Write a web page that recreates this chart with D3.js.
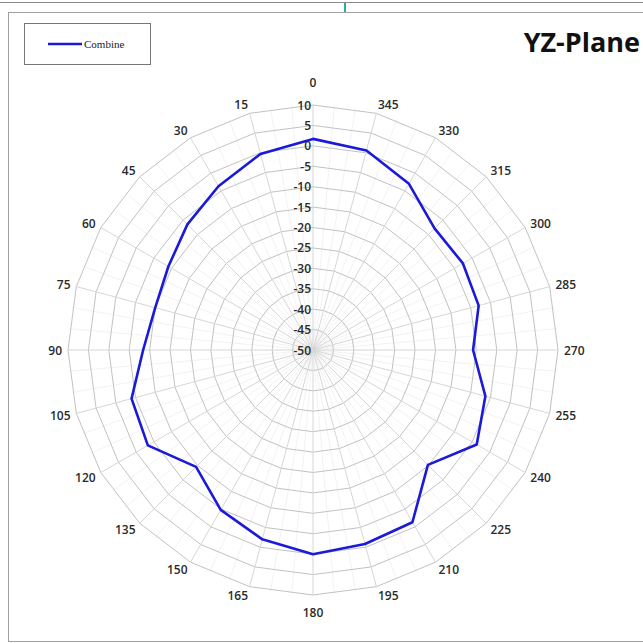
<!DOCTYPE html>
<html>
<head>
<meta charset="utf-8">
<script src="https://cdn.jsdelivr.net/npm/d3@7/dist/d3.min.js"></script>
<style>
  html, body { margin: 0; padding: 0; background: #fff; }
  svg { display: block; }
</style>
</head>
<body>
<svg id="chart" width="643" height="643"></svg>
<script>
// ---- data ----
const angles = [0, 15, 30, 45, 60, 75, 90, 105, 120, 135, 150, 165,
                180, 195, 210, 225, 240, 255, 270, 285, 300, 315, 330, 345];
const combine = [1.7, -0.3, -3.7, -6.5, -9.1, -10.0, -8.4, -4.0, -3.3, -9.5, -4.8, -2.0,
                 0.0, -0.8, -1.3, -10.2, -3.7, -6.3, -10.8, -8.0, -7.6, -7.9, -3.0, 0.6];
const radialTicks = [10, 5, 0, -5, -10, -15, -20, -25, -30, -35, -40, -45, -50];
const seriesName = "Combine";
const title = "YZ-Plane";

// ---- layout ----
const svg = d3.select("#chart");
const cx = 313, cy = 350, R = 245;
const rScale = d3.scaleLinear().domain([-50, 10]).range([0, R]);
const toRad = a => -a * Math.PI / 180;   // counter-clockwise from top

// outer frame
svg.append("line").attr("x1", 0).attr("x2", 643).attr("y1", 2.5).attr("y2", 2.5)
  .attr("stroke", "#8a8a8a").attr("stroke-width", 1.2);
svg.append("line").attr("x1", 345).attr("x2", 345).attr("y1", 3).attr("y2", 12)
  .attr("stroke", "#1bb5a2").attr("stroke-width", 2);
svg.append("rect").attr("x", 8.5).attr("y", 12.5).attr("width", 660).attr("height", 629)
  .attr("fill", "#fff").attr("stroke", "#a0a0a0").attr("stroke-width", 1);

const g = svg.append("g").attr("transform", `translate(${cx},${cy})`);

// minor spokes
const minorAngles = d3.range(0, 360, 5).filter(a => a % 15 !== 0);
g.selectAll("line.minor").data(minorAngles).join("line").attr("class", "minor")
  .attr("x1", 0).attr("y1", 0)
  .attr("x2", a => R * Math.sin(toRad(a)))
  .attr("y2", a => -R * Math.cos(toRad(a)))
  .attr("stroke", "#efefef").attr("stroke-width", 0.8);

// rings (polygons)
const ringLine = d3.lineRadial()
  .angle(a => toRad(a))
  .curve(d3.curveLinearClosed);
g.selectAll("path.ring").data(radialTicks.filter(t => t > -50)).join("path")
  .attr("class", "ring")
  .attr("d", t => ringLine.radius(() => rScale(t))(angles))
  .attr("fill", "none").attr("stroke", "#c2c2c2").attr("stroke-width", 1);

// major spokes
g.selectAll("line.spoke").data(angles).join("line").attr("class", "spoke")
  .attr("x1", 0).attr("y1", 0)
  .attr("x2", a => R * Math.sin(toRad(a)))
  .attr("y2", a => -R * Math.cos(toRad(a)))
  .attr("stroke", "#d6d6d6").attr("stroke-width", 1);

// angle labels (anchored at their inner edge)
const labR = R + 6;
function side(a) {
  const s = Math.sin(toRad(a));
  return Math.abs(s) < 1e-6 ? 0 : Math.sign(s);
}
g.selectAll("text.ang").data(angles).join("text").attr("class", "ang")
  .attr("x", a => labR * Math.sin(toRad(a)))
  .attr("y", a => {
    const c = Math.cos(toRad(a));
    if (side(a) === 0) return c > 0 ? -(labR + 17) : (labR + 11);
    return -(labR + 3) * c;
  })
  .attr("text-anchor", a => side(a) === 0 ? "middle" : (side(a) < 0 ? "end" : "start"))
  .attr("dominant-baseline", "central")
  .attr("font-family", "Open Sans, sans-serif").attr("font-weight", 600)
  .attr("font-size", 12).attr("fill", "#2a2a2a")
  .text(a => a);

// data line
const dataLine = d3.lineRadial()
  .angle((d, i) => toRad(angles[i]))
  .radius(d => rScale(d))
  .curve(d3.curveLinearClosed);
g.append("path").datum(combine)
  .attr("d", dataLine)
  .attr("fill", "none").attr("stroke", "#1a1ad8").attr("stroke-width", 2.6)
  .attr("stroke-linejoin", "round");

// radial tick labels
g.selectAll("text.rt").data(radialTicks).join("text").attr("class", "rt")
  .attr("x", -2).attr("y", t => -rScale(t))
  .attr("text-anchor", "end").attr("dominant-baseline", "central")
  .attr("font-family", "Open Sans, sans-serif").attr("font-weight", 600)
  .attr("font-size", 12).attr("fill", "#2a2a2a")
  .text(t => t);

// legend
svg.append("rect").attr("x", 24.5).attr("y", 23.5).attr("width", 126).attr("height", 41)
  .attr("fill", "#fff").attr("stroke", "#777").attr("stroke-width", 1);
svg.append("line").attr("x1", 48).attr("x2", 82).attr("y1", 44).attr("y2", 44)
  .attr("stroke", "#1a1ad8").attr("stroke-width", 2.6);
svg.append("text").attr("x", 84).attr("y", 44)
  .attr("dominant-baseline", "central")
  .attr("font-family", "Liberation Serif, serif").attr("font-size", 11)
  .attr("fill", "#222").text(seriesName);

// title
svg.append("text").attr("x", 640).attr("y", 52)
  .attr("text-anchor", "end")
  .attr("font-family", "Open Sans, sans-serif").attr("font-weight", 700)
  .attr("font-size", 27).attr("fill", "#111").text(title);
</script>
</body>
</html>
